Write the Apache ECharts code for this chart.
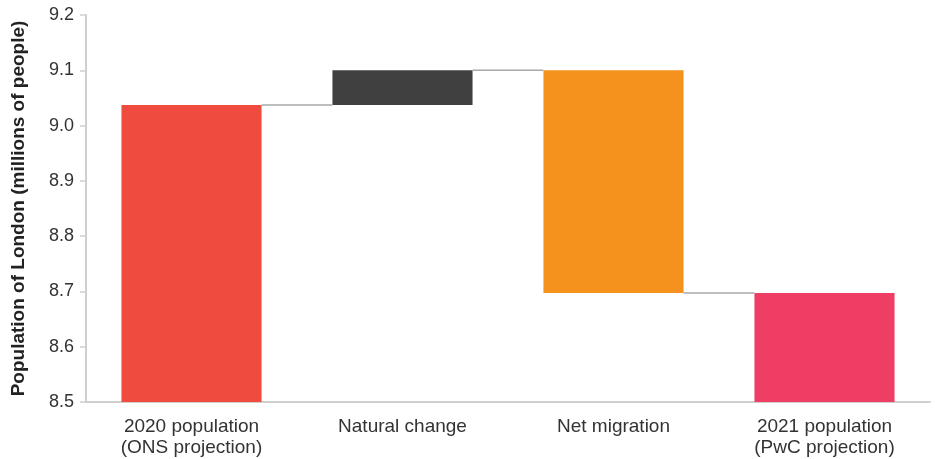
<!DOCTYPE html>
<html>
<head>
<meta charset="utf-8">
<script src="https://cdn.jsdelivr.net/npm/echarts@6/dist/echarts.min.js"></script>
<style>
  html, body { margin: 0; padding: 0; background: #fff; }
  #chart { width: 935px; height: 459px; }
</style>
</head>
<body>
<div id="chart"></div>
<script>
// London population bridge, 2020 -> 2021 (millions of people)
const categories = ['2020 population\n(ONS projection)', 'Natural change', 'Net migration', '2021 population\n(PwC projection)'];
const startValue = 9.037;     // 2020 population
const changes = [0.063, -0.403]; // natural change, net migration
const endValue = 8.697;       // 2021 population
const barColors = ['#EF4B3F', '#404040', '#F5921E', '#EF3E63'];
const yTicks = { min: 8.5, max: 9.2, step: 0.1 };

// Build invisible bases and visible segments for the waterfall
const base = [];
const visible = [];
const levels = []; // running total after each bar
let running = startValue;
base.push(0); visible.push(startValue); levels.push(running);
changes.forEach(c => {
  const next = running + c;
  base.push(Math.min(running, next));
  visible.push(Math.abs(c));
  running = next;
  levels.push(running);
});
base.push(0); visible.push(endValue); levels.push(endValue);

const barFraction = 0.664;
const chart = echarts.init(document.getElementById('chart'), null, { renderer: 'canvas' });

chart.setOption({
  animation: false,
  backgroundColor: '#ffffff',
  textStyle: { fontFamily: 'Liberation Sans, Arial, sans-serif' },
  grid: { left: 86, right: 5, top: 15, bottom: 57, containLabel: false },
  xAxis: {
    type: 'category',
    data: categories,
    axisLine: { show: true, lineStyle: { color: '#cfcfcf', width: 2 } },
    axisTick: { show: false },
    axisLabel: { color: '#333', fontSize: 19, lineHeight: 21, margin: 14, interval: 0 },
    splitLine: { show: false }
  },
  yAxis: {
    type: 'value',
    min: yTicks.min,
    max: yTicks.max,
    interval: yTicks.step,
    name: 'Population of London (millions of people)',
    nameLocation: 'middle',
    nameGap: 58,
    nameRotate: 90,
    nameTextStyle: { color: '#222', fontSize: 19, fontWeight: 'bold' },
    axisLine: { show: true, lineStyle: { color: '#cfcfcf', width: 2 } },
    axisTick: { show: true, length: 6, lineStyle: { color: '#cfcfcf', width: 1.5 } },
    axisLabel: { color: '#333', fontSize: 18, margin: 12, formatter: v => v.toFixed(1) },
    splitLine: { show: false }
  },
  series: [
    {
      type: 'bar',
      stack: 'w',
      data: base,
      barWidth: (barFraction * 100) + '%',
      itemStyle: { color: 'transparent' },
      silent: true
    },
    {
      type: 'bar',
      stack: 'w',
      data: visible.map((v, i) => ({ value: v, itemStyle: { color: barColors[i] } })),
      barWidth: (barFraction * 100) + '%'
    },
    {
      // connector lines between consecutive bars at the running total
      type: 'custom',
      data: levels.slice(0, levels.length - 1).map((lv, i) => [i, lv]),
      renderItem: function (params, api) {
        const i = api.value(0);
        const lv = api.value(1);
        const p1 = api.coord([i, lv]);
        const p2 = api.coord([i + 1, lv]);
        const half = api.size([1, 0])[0] * barFraction / 2;
        return {
          type: 'line',
          shape: { x1: p1[0] + half, y1: p1[1], x2: p2[0] - half, y2: p2[1] },
          style: { stroke: '#a8a8a8', lineWidth: 1.5 }
        };
      },
      z: 5
    }
  ]
});
</script>
</body>
</html>
